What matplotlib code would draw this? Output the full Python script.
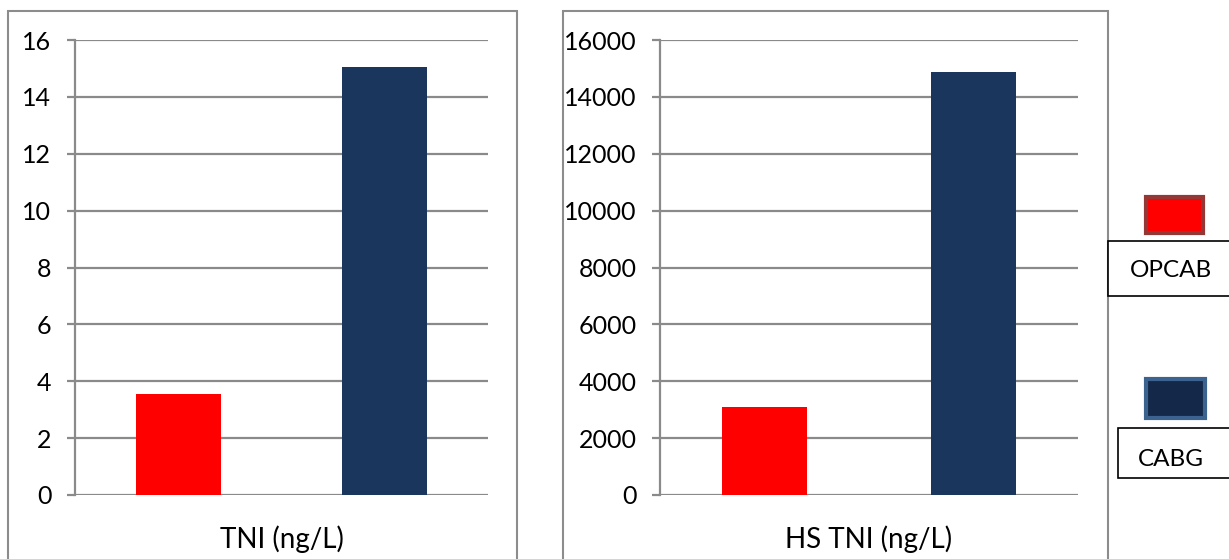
import matplotlib.pyplot as plt
from matplotlib.patches import Rectangle

# data
groups = ['OPCAB', 'CABG']
tni = [3.55, 15.05]
hs_tni = [3100, 14870]
bar_colors = ['#FF0000', '#1B365D']

plt.rcParams['font.family'] = ['Lato', 'DejaVu Sans']

W, H = 1229, 559
fig = plt.figure(figsize=(W / 100, H / 100), dpi=100)


def px_axes(x0, y0, x1, y1):
    # pixel box (top-left origin) -> figure axes
    return fig.add_axes([x0 / W, 1 - y1 / H, (x1 - x0) / W, (y1 - y0) / H])


def frame(x0, y0, x1, y1):
    fig.patches.append(Rectangle((x0 / W, 1 - y1 / H), (x1 - x0) / W, (y1 - y0) / H,
                                 transform=fig.transFigure, fill=False,
                                 edgecolor='#8c8c8c', linewidth=1.5))


frame(8, 11, 517, 575)
frame(563, 11, 1108, 575)

grid_c = '#8a8a8a'


def make_panel(ax, vals, top, step, label):
    ax.bar([0, 1], vals, width=0.41, color=bar_colors, zorder=3)
    ax.set_xlim(-0.5, 1.5)
    ax.set_ylim(0, top)
    ax.set_yticks(range(0, top + 1, step))
    ax.set_xticks([])
    ax.yaxis.grid(True, color=grid_c, linewidth=1.6)
    ax.set_axisbelow(True)
    for s in ['top', 'right', 'bottom']:
        ax.spines[s].set_visible(False)
    ax.spines['left'].set_color(grid_c)
    ax.spines['left'].set_linewidth(1.6)
    ax.tick_params(axis='y', length=6, width=1.6, color=grid_c,
                   labelsize=18, pad=11, labelcolor='black')
    ax.set_xlabel(label, fontsize=20, labelpad=22)


ax1 = px_axes(75, 40, 488, 495)
make_panel(ax1, tni, 16, 2, 'TNI (ng/L)')

ax2 = px_axes(660, 40, 1078, 495)
make_panel(ax2, hs_tni, 16000, 2000, 'HS TNI (ng/L)')

# legend drawn as boxes on the right
legend_swatch = [('#FF0000', '#953735', (1146, 197, 1203, 233)),
                 ('#14294A', '#3C6290', (1146, 379, 1205, 418))]
legend_box = [(1108, 241, 1232, 296), (1118, 428, 1232, 478)]
text_pos = [(1171, 270), (1171, 460)]
for (fc, ec, (x0, y0, x1, y1)), (bx0, by0, bx1, by1), (tx, ty), name in zip(
        legend_swatch, legend_box, text_pos, groups):
    fig.patches.append(Rectangle((x0 / W, 1 - y1 / H), (x1 - x0) / W, (y1 - y0) / H,
                                 transform=fig.transFigure, facecolor=fc,
                                 edgecolor=ec, linewidth=3))
    fig.patches.append(Rectangle((bx0 / W, 1 - by1 / H), (bx1 - bx0) / W, (by1 - by0) / H,
                                 transform=fig.transFigure, facecolor='white',
                                 edgecolor='black', linewidth=1.2))
    fig.text(tx / W, 1 - ty / H, name, fontsize=17.5, ha='center', va='center')

fig.savefig('out.png', dpi=100)
